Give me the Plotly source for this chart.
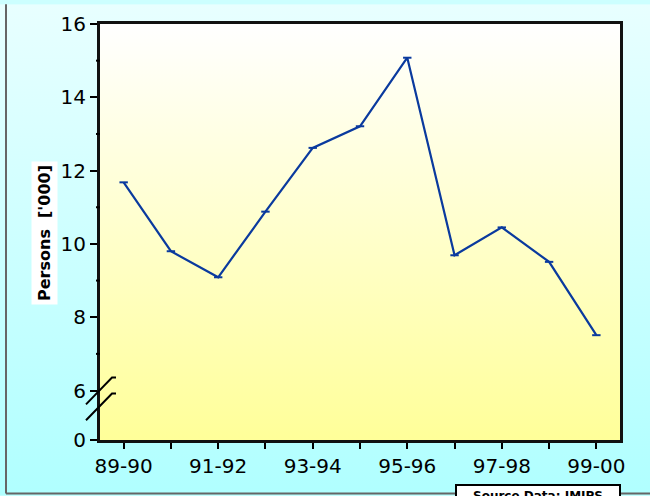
import base64
import plotly.graph_objects as go

# ---- data ----
years = ["89-90", "90-91", "91-92", "92-93", "93-94", "94-95",
         "95-96", "96-97", "97-98", "98-99", "99-00"]
persons = [11.68, 9.80, 9.09, 10.88, 12.62, 13.21, 15.08, 9.69, 10.45, 9.51, 7.51]
tick_vals = [4.65, 6, 8, 10, 12, 14, 16]
tick_text = ["0", "6", "8", "10", "12", "14", "16"]
minor_vals = [7, 9, 11, 13, 15]
label_years = ["89-90", "91-92", "93-94", "95-96", "97-98", "99-00"]

W, H = 650, 496
L, R, T, B = 100, 30, 20, 56
PW, PH = W - L - R, H - T - B


def px2paper(x, y):
    return (x - L) / PW, (H - B - y) / PH


def grad_svg(top, bottom):
    svg = ('<svg xmlns="http://www.w3.org/2000/svg" width="100" height="100" '
           'viewBox="0 0 100 100" preserveAspectRatio="none">'
           '<defs><linearGradient id="g" x1="0" y1="0" x2="0" y2="1">'
           f'<stop offset="0" stop-color="{top}"/><stop offset="1" stop-color="{bottom}"/>'
           '</linearGradient></defs><rect width="100" height="100" fill="url(#g)"/></svg>')
    return "data:image/svg+xml;base64," + base64.b64encode(svg.encode()).decode()


xi = list(range(len(years)))

fig = go.Figure()
fig.add_trace(go.Scatter(
    x=xi, y=persons, mode="lines+markers",
    line=dict(color="#0a3a9e", width=2.2),
    marker=dict(symbol="line-ew", size=6, line=dict(color="#0a3a9e", width=2)),
    hoverinfo="skip", showlegend=False,
))

# break marks on y axis
shapes = []
for cy in (390, 406):
    x1, y1 = px2paper(86, cy + 14)
    x2, y2 = px2paper(112, cy - 13)
    x3, y3 = px2paper(116, cy - 13)
    shapes.append(dict(type="path", xref="paper", yref="paper",
                       path=f"M {x1},{y1} L {x2},{y2} L {x3},{y3}",
                       line=dict(color="black", width=2)))
# outer frame (left and bottom)
fx0, fy0 = px2paper(6, 494)
fx1, fy1 = px2paper(6, 0)
fx2, _ = px2paper(650, 494)
shapes.append(dict(type="line", xref="paper", yref="paper", x0=fx0, y0=fy0, x1=fx1, y1=fy1,
                   line=dict(color="#666666", width=2)))
shapes.append(dict(type="line", xref="paper", yref="paper", x0=fx0, y0=fy0, x1=fx2, y1=fy0,
                   line=dict(color="#666666", width=2)))
# minor ticks
for v in minor_vals:
    shapes.append(dict(type="line", xref="paper", yref="y", x0=-4 / PW, x1=0, y0=v, y1=v,
                       line=dict(color="black", width=2)))

images = [
    dict(source=grad_svg("#e8ffff", "#b0ffff"), xref="paper", yref="paper",
         x=-L / PW, y=1 + T / PH, sizex=W / PW, sizey=H / PH,
         sizing="stretch", layer="below", xanchor="left", yanchor="top"),
    dict(source=grad_svg("#ffffff", "#ffff99"), xref="paper", yref="paper",
         x=0, y=1, sizex=1, sizey=1, sizing="stretch", layer="below",
         xanchor="left", yanchor="top"),
]

ax, ay = px2paper(45, 231)
sx, sy = px2paper(455, 484)
annotations = [
    dict(text="<b>Persons  ['000]</b>", xref="paper", yref="paper", x=ax, y=ay,
         xanchor="center", yanchor="middle",
         textangle=-90, showarrow=False, bgcolor="white", borderpad=3,
         font=dict(family="DejaVu Sans", size=16, color="black")),
    dict(text="<b>Source Data: IMIPS</b>", xref="paper", yref="paper", x=sx, y=sy,
         xanchor="left", yanchor="top", showarrow=False, bgcolor="white",
         bordercolor="black", borderwidth=2, borderpad=3, width=156,
         font=dict(family="DejaVu Sans", size=12, color="black")),
]

fig.update_layout(
    width=W, height=H,
    margin=dict(l=L, r=R, t=T, b=B),
    paper_bgcolor="#ccffff", plot_bgcolor="rgba(0,0,0,0)",
    font=dict(family="DejaVu Sans", size=20, color="black"),
    xaxis=dict(range=[-0.5, 10.5], tickmode="array", tickvals=xi,
               ticktext=[y if y in label_years else "" for y in years],
               ticks="outside", ticklen=6, tickwidth=2, tickcolor="black",
               showline=True, linewidth=3, linecolor="#111111", mirror=True,
               showgrid=False, zeroline=False, fixedrange=True),
    yaxis=dict(range=[4.65, 16], tickmode="array", tickvals=tick_vals, ticktext=tick_text,
               ticks="outside", ticklen=7, tickwidth=2, tickcolor="black",
               showline=True, linewidth=3, linecolor="#111111", mirror=True,
               showgrid=False, zeroline=False, fixedrange=True),
    shapes=shapes, images=images, annotations=annotations,
)

fig.write_html("out.html", config={"displayModeBar": False},
               post_script="document.body.style.margin='0';")
